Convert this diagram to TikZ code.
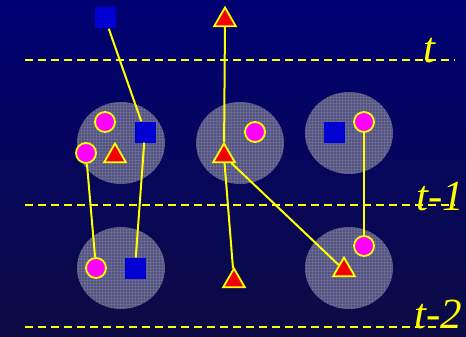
\documentclass[tikz,border=0pt]{standalone}
\usepackage{fontspec}
\setmainfont{Liberation Serif}
\usetikzlibrary{patterns,shapes.geometric}
\definecolor{bgtop}{RGB}{0,0,115}
\definecolor{bgbot}{RGB}{12,12,68}
\definecolor{blobc}{RGB}{84,84,130}
\definecolor{sqblue}{RGB}{0,0,210}
\definecolor{mag}{RGB}{255,0,255}
\definecolor{yel}{RGB}{255,255,0}
\definecolor{trired}{RGB}{240,0,0}
\tikzset{
  sq/.style={rectangle, fill=sqblue, minimum size=21pt, inner sep=0pt},
  dot/.style={circle, fill=mag, draw=yel, line width=1.8pt, minimum size=20pt, inner sep=0pt},
  tri/.style={regular polygon, regular polygon sides=3, fill=trired, draw=yel, line width=1.8pt, minimum size=25pt, inner sep=0pt},
  link/.style={draw=yel, line width=2pt},
  tline/.style={draw=yel, line width=1.8pt, dash pattern=on 8pt off 5pt},
  tlab/.style={text=yel, font=\fontsize{43}{43}\selectfont\itshape, inner sep=0pt, anchor=base west}
}
\begin{document}
\begin{tikzpicture}[x=1pt,y=-1pt]
\shade[top color=bgtop, bottom color=bgbot] (0,0) rectangle (466,337);
\useasboundingbox (0,0) rectangle (466,337);
% blobs
\foreach \cx/\cy in {121/143, 240/143, 349/133, 121/268, 349/268}{
  \fill[blobc] (\cx,\cy) ellipse [x radius=44, y radius=41];
  \fill[pattern=grid, pattern color=white!40!blobc, opacity=0.25] (\cx,\cy) ellipse [x radius=44, y radius=41];
}
% dashed time lines
\coordinate (l0a) at (25,60);  \coordinate (l0b) at (455,60);
\coordinate (l1a) at (25,205); \coordinate (l1b) at (455,205);
\coordinate (l2a) at (25,327); \coordinate (l2b) at (455,327);
\draw[tline] (l0a) -- (l0b);
\draw[tline] (l1a) -- (l1b);
\draw[tline] (l2a) -- (l2b);
\node[tlab] (lt) at (423,63) {t};
\node[tlab] (lt1) at (416,210) {t-1};
\node[tlab] (lt2) at (414,328) {t-2};
% objects
\node[sq] (s0) at (105,18) {};
\node[tri] (r0) at (225,20) {};
\node[dot] (c1a) at (105,122) {};
\node[sq] (s1) at (145,132) {};
\node[dot] (c1b) at (86,153) {};
\node[tri] (r1a) at (115,156) {};
\node[dot] (c2) at (255,132) {};
\node[tri] (r2) at (224,156) {};
\node[sq] (s3) at (334,132) {};
\node[dot] (c3) at (364,122) {};
\node[dot] (c4) at (96,268) {};
\node[sq] (s4) at (135,268) {};
\node[tri] (rm) at (234,281) {};
\node[dot] (c5) at (364,246) {};
\node[tri] (r5) at (344,270) {};
% links
\draw[link] (s0) -- (s1);
\draw[link] (s1) -- (s4);
\draw[link] (c1b) -- (c4);
\draw[link] (r0) -- (r2);
\draw[link] (r2) -- (rm);
\draw[link] (r2) -- (r5);
\draw[link] (c3) -- (c5);
\end{tikzpicture}
\end{document}
